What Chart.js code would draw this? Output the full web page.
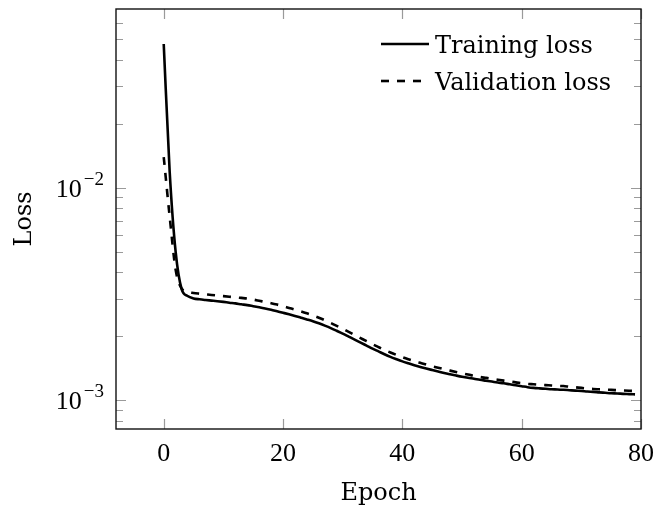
<!DOCTYPE html>
<html>
<head>
<meta charset="utf-8">
<script src="https://cdn.jsdelivr.net/npm/chart.js@4/dist/chart.umd.min.js"></script>
<style>
  html, body { margin: 0; padding: 0; background: #fff; }
  #wrap { width: 659px; height: 512px; }
</style>
</head>
<body>
<div id="wrap"><canvas id="c" width="659" height="512"></canvas></div>
<script>
const epochs = Array.from({length: 80}, (_, i) => i);
const trainingLoss = [
  0.04753, 0.01186, 0.00498, 0.00333, 0.00309, 0.00301, 0.00298, 0.002958, 0.002939, 0.00292,
  0.002898, 0.002873, 0.002851, 0.002824, 0.002799, 0.002766, 0.002733, 0.002698, 0.00266, 0.002617,
  0.002575, 0.002533, 0.002489, 0.002443, 0.002397, 0.00235, 0.002297, 0.00224, 0.002181, 0.002118,
  0.002055, 0.001989, 0.001925, 0.001864, 0.001804, 0.001746, 0.001694, 0.001643, 0.001597, 0.001557,
  0.00152, 0.001488, 0.001458, 0.001432, 0.001407, 0.001384, 0.001362, 0.001341, 0.001322, 0.001304,
  0.001287, 0.001272, 0.001259, 0.001245, 0.001233, 0.001221, 0.001209, 0.001198, 0.001185, 0.001173,
  0.001161, 0.001149, 0.00114, 0.001134, 0.001129, 0.001123, 0.001121, 0.001117, 0.001112, 0.001107,
  0.001103, 0.001096, 0.001092, 0.001086, 0.001081, 0.001076, 0.001073, 0.001069, 0.001066, 0.001063
];
const validationLoss = [
  0.01395, 0.0073, 0.0041, 0.003351, 0.003227, 0.003192, 0.003168, 0.003147, 0.003126, 0.003106,
  0.003086, 0.003066, 0.003046, 0.003026, 0.003006, 0.002971, 0.002933, 0.002895, 0.002858, 0.002815,
  0.002766, 0.002715, 0.002666, 0.002614, 0.002561, 0.002503, 0.002441, 0.002376, 0.002307, 0.002236,
  0.002165, 0.002093, 0.002024, 0.001957, 0.001892, 0.001831, 0.001775, 0.001722, 0.001674, 0.001631,
  0.001592, 0.001557, 0.001525, 0.001496, 0.001468, 0.001442, 0.001419, 0.001396, 0.001375, 0.001355,
  0.001336, 0.001317, 0.0013, 0.001283, 0.001271, 0.001259, 0.001246, 0.001234, 0.001223, 0.001211,
  0.001201, 0.00119, 0.001186, 0.00118, 0.001175, 0.001171, 0.001166, 0.001163, 0.001155, 0.001148,
  0.00114, 0.001133, 0.001127, 0.001123, 0.001119, 0.001116, 0.001112, 0.001108, 0.001105, 0.001103
];
const seriesLabels = ['Training loss', 'Validation loss'];
const xTicks = [0, 20, 40, 60, 80];
const yMajorTicks = [0.001, 0.01];
const yMajorLabels = [['10', '\u22123'], ['10', '\u22122']];
const yMinorTicks = [0.0008, 0.0009, 0.002, 0.003, 0.004, 0.005, 0.006, 0.007, 0.008, 0.009,
                     0.02, 0.03, 0.04, 0.05, 0.06];

const TICK_FONT = '"Liberation Serif", "DejaVu Serif", serif';
const TEXT_FONT = '"DejaVu Serif", serif';

const frame = {
  id: 'frame',
  afterDraw(chart) {
    const ctx = chart.ctx;
    const a = chart.chartArea;
    const xs = chart.scales.x, ys = chart.scales.y;
    ctx.save();
    ctx.strokeStyle = '#9a9a9a';
    ctx.lineWidth = 1.2;
    ctx.beginPath();
    xTicks.forEach(v => {
      const px = Math.round(xs.getPixelForValue(v)) + 0.5;
      ctx.moveTo(px, a.bottom); ctx.lineTo(px, a.bottom - 10);
      ctx.moveTo(px, a.top); ctx.lineTo(px, a.top + 10);
    });
    yMajorTicks.forEach(v => {
      const py = Math.round(ys.getPixelForValue(v)) + 0.5;
      ctx.moveTo(a.left, py); ctx.lineTo(a.left + 10, py);
      ctx.moveTo(a.right, py); ctx.lineTo(a.right - 10, py);
    });
    yMinorTicks.forEach(v => {
      const py = Math.round(ys.getPixelForValue(v)) + 0.5;
      if (py < a.top || py > a.bottom) return;
      ctx.moveTo(a.left, py); ctx.lineTo(a.left + 7, py);
      ctx.moveTo(a.right, py); ctx.lineTo(a.right - 7, py);
    });
    ctx.stroke();
    ctx.strokeStyle = '#111';
    ctx.lineWidth = 1.4;
    ctx.strokeRect(a.left, a.top, a.right - a.left, a.bottom - a.top);

    ctx.fillStyle = '#000';
    ctx.textBaseline = 'alphabetic';
    ctx.textAlign = 'left';
    yMajorTicks.forEach((v, i) => {
      const py = ys.getPixelForValue(v);
      const [base, sup] = yMajorLabels[i];
      ctx.font = '19px ' + TICK_FONT;
      const supW = ctx.measureText(sup).width;
      ctx.font = '26px ' + TICK_FONT;
      const baseW = ctx.measureText(base).width;
      const right = a.left - 12;
      const x0 = right - supW - baseW - 2;
      ctx.fillText(base, x0, py + 9);
      ctx.font = '19px ' + TICK_FONT;
      ctx.fillText(sup, x0 + baseW + 2, py - 3);
    });

    const items = chart.data.datasets;
    const lx0 = 381, tx = 435;
    const lineEnds = [429, 424];
    const rows = [44, 81];
    items.forEach((ds, i) => {
      const y = rows[i];
      ctx.strokeStyle = '#000';
      ctx.lineWidth = ds.borderWidth;
      ctx.setLineDash(ds.borderDash || []);
      ctx.beginPath();
      ctx.moveTo(lx0, y); ctx.lineTo(lineEnds[i], y);
      ctx.stroke();
      ctx.setLineDash([]);
      ctx.font = '24px ' + TEXT_FONT;
      ctx.fillStyle = '#000';
      ctx.textBaseline = 'alphabetic';
      ctx.fillText(ds.label, tx, y + 9);
    });
    ctx.restore();
  }
};

new Chart(document.getElementById('c'), {
  type: 'line',
  data: {
    datasets: [
      {
        label: seriesLabels[0],
        data: epochs.map((e, i) => ({x: e, y: trainingLoss[i]})),
        borderColor: '#000',
        borderWidth: 2.6,
        pointRadius: 0,
        fill: false,
        cubicInterpolationMode: 'monotone'
      },
      {
        label: seriesLabels[1],
        data: epochs.map((e, i) => ({x: e, y: validationLoss[i]})),
        borderColor: '#000',
        borderWidth: 2.6,
        borderDash: [8, 8],
        pointRadius: 0,
        fill: false,
        cubicInterpolationMode: 'monotone'
      }
    ]
  },
  options: {
    responsive: false,
    animation: false,
    devicePixelRatio: 1,
    layout: { padding: { top: 9, right: 18, left: 0, bottom: 0 } },
    plugins: { legend: { display: false }, tooltip: { enabled: false } },
    scales: {
      x: {
        type: 'linear',
        min: -8,
        max: 80,
        bounds: 'data',
        grid: { display: false, drawTicks: false },
        border: { display: false },
        afterBuildTicks: s => { s.ticks = xTicks.map(v => ({value: v})); },
        afterFit: s => { s.height = 83; s.paddingRight = 0; s.paddingLeft = 0; },
        ticks: {
          color: '#000',
          padding: 10,
          font: { family: TICK_FONT, size: 26 },
          maxRotation: 0,
          callback: v => String(v)
        },
        title: {
          display: true,
          text: 'Epoch',
          color: '#000',
          font: { family: TEXT_FONT, size: 24 },
          padding: { top: 0, bottom: 4 }
        }
      },
      y: {
        type: 'logarithmic',
        min: 0.00073,
        max: 0.0695,
        bounds: 'data',
        grid: { display: false, drawTicks: false },
        border: { display: false },
        afterFit: s => { s.width = 116; },
        ticks: { display: false },
        title: {
          display: true,
          text: 'Loss',
          color: '#000',
          font: { family: TEXT_FONT, size: 24 },
          padding: { top: 10, bottom: 0 }
        }
      }
    }
  },
  plugins: [frame]
});
</script>
</body>
</html>
